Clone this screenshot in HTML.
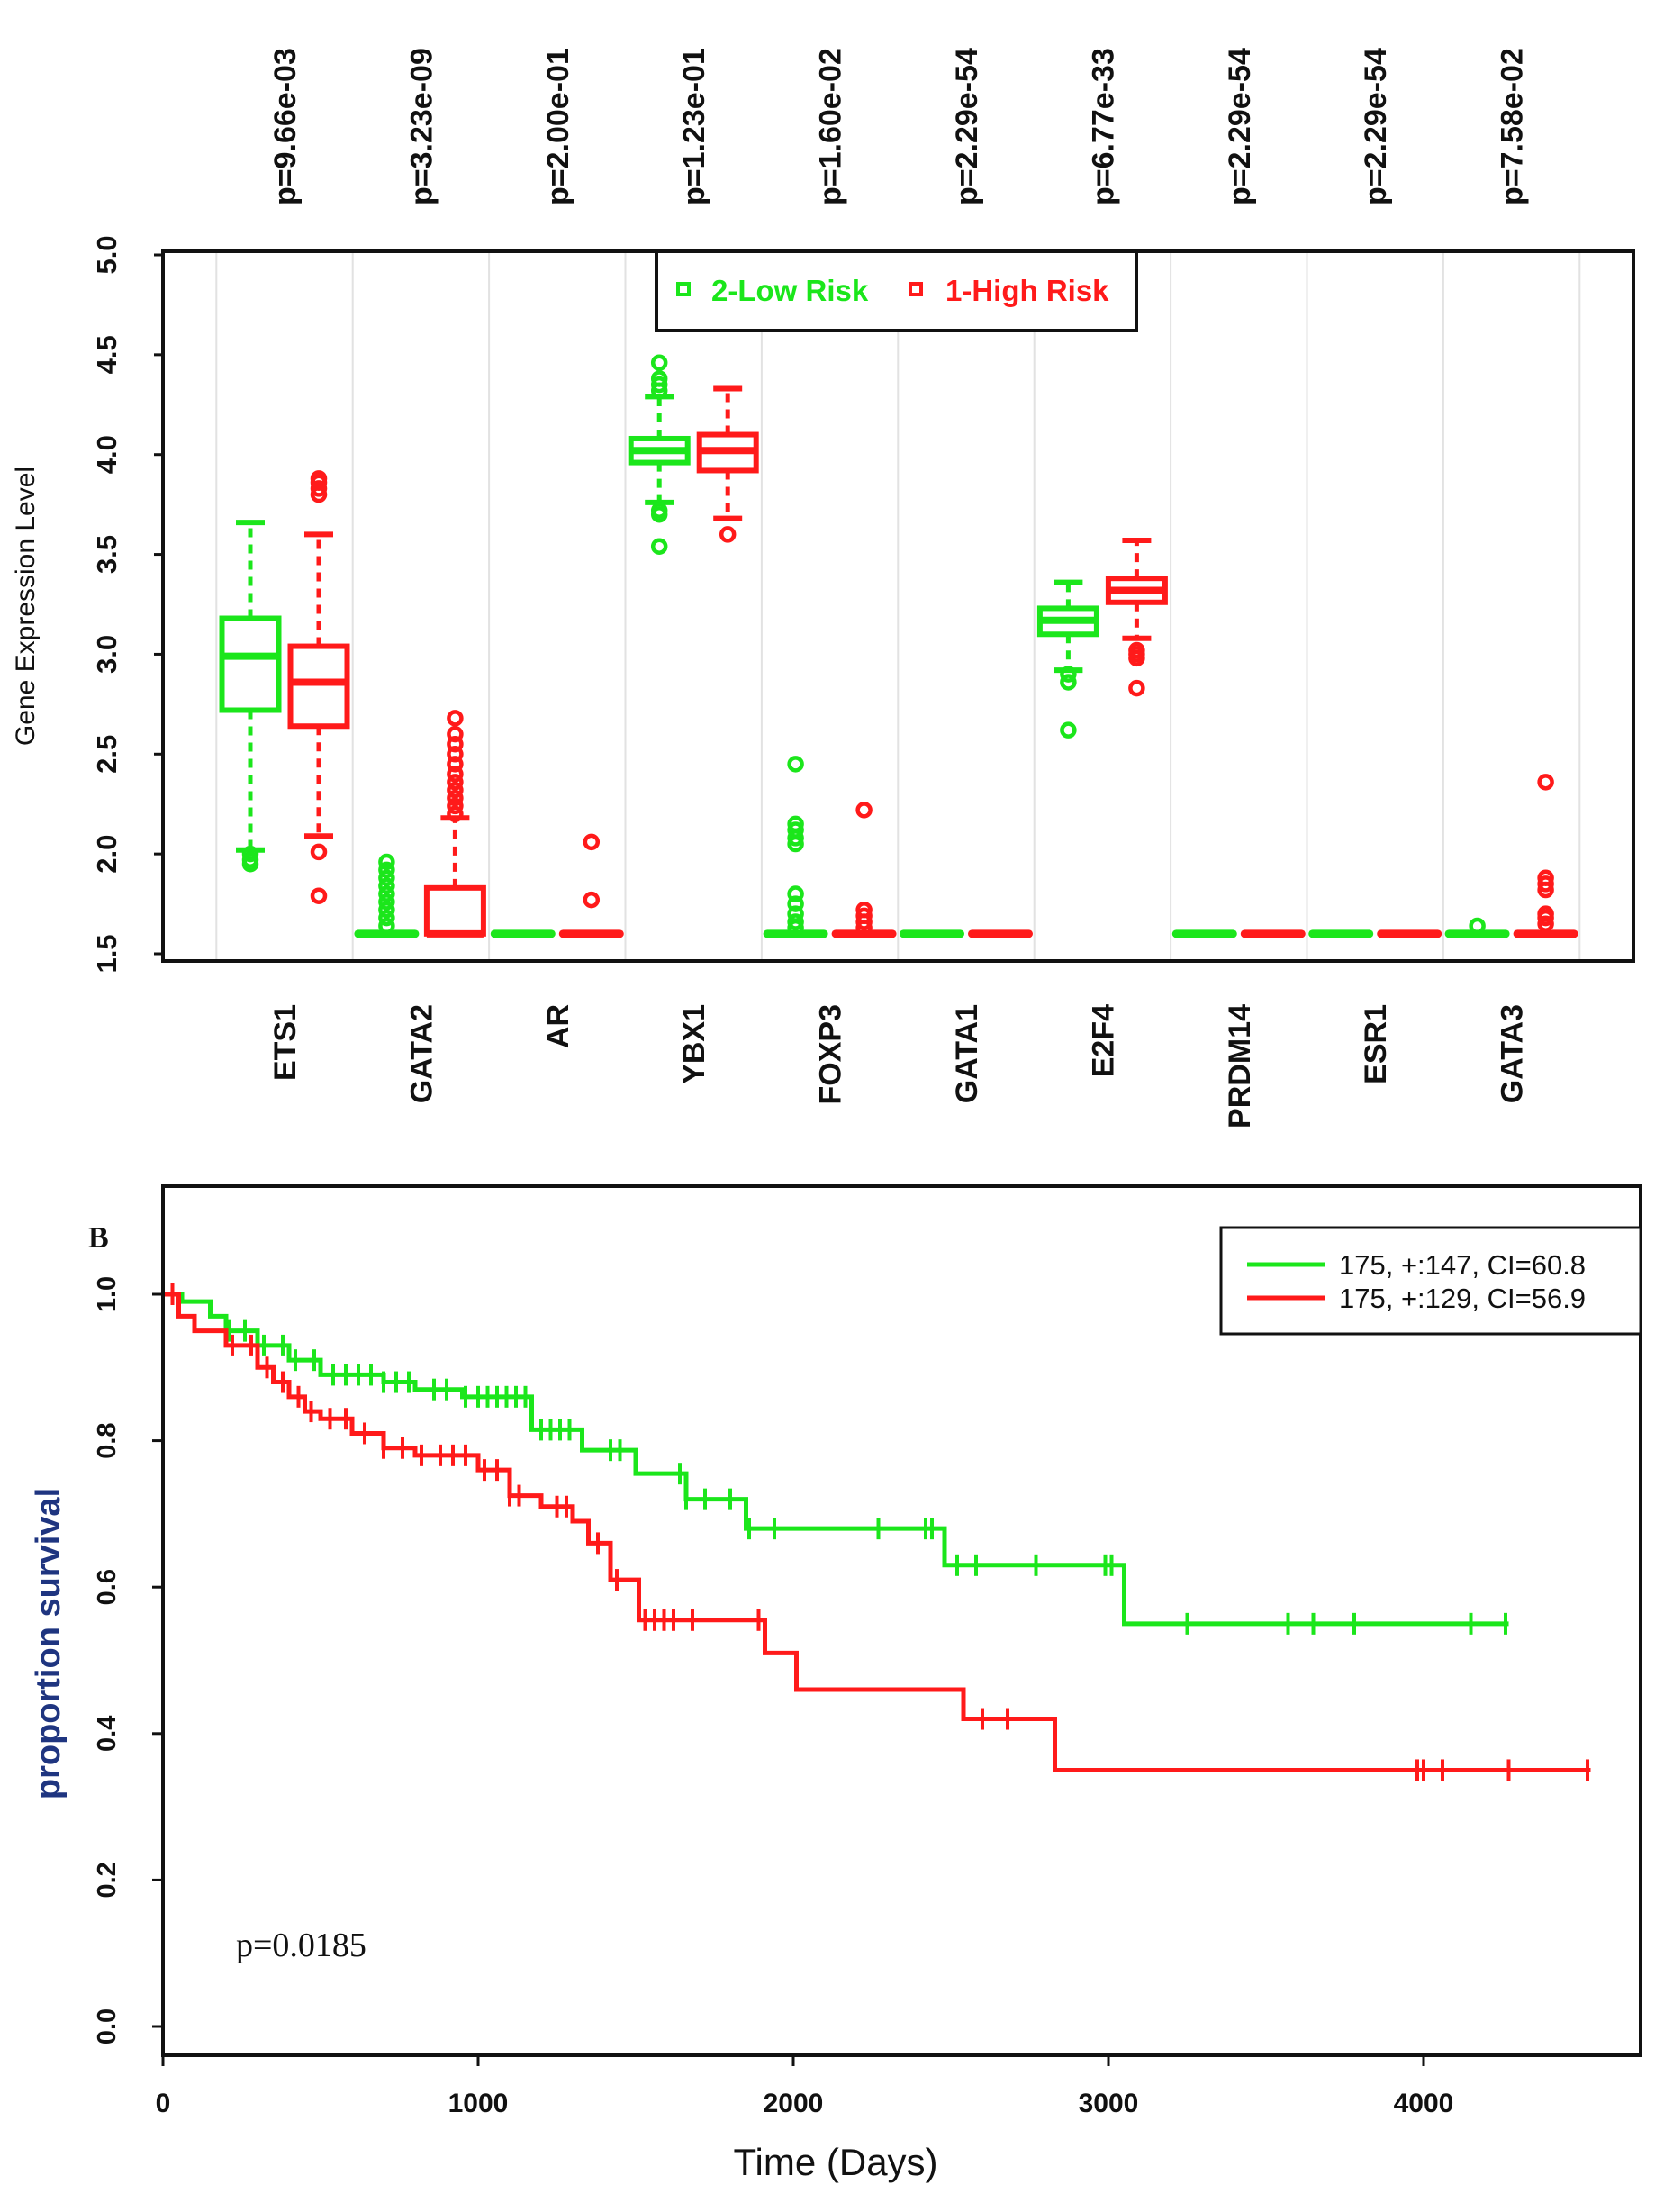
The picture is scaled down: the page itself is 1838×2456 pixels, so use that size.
<!DOCTYPE html>
<html><head><meta charset="utf-8">
<style>
html,body{margin:0;padding:0;background:#fff;}
svg{display:block;font-family:"Liberation Sans",sans-serif;}
</style></head>
<body>
<svg id="fig" width="1838" height="2456" viewBox="0 0 1838 2456" xmlns="http://www.w3.org/2000/svg">
<g id="topPanel"></g>
<g id="botPanel"></g>
</svg>
<script>
// ---------- Boxplot data ----------
const genes = ["ETS1","GATA2","AR","YBX1","FOXP3","GATA1","E2F4","PRDM14","ESR1","GATA3"];
const pvals = ["p=9.66e-03","p=3.23e-09","p=2.00e-01","p=1.23e-01","p=1.60e-02","p=2.29e-54","p=6.77e-33","p=2.29e-54","p=2.29e-54","p=7.58e-02"];
// [lowWhisker, q1, median, q3, highWhisker]
const lowRiskStats = [[2.02,2.72,2.99,3.18,3.66],[1.6,1.6,1.6,1.6,1.6],[1.6,1.6,1.6,1.6,1.6],[3.76,3.96,4.02,4.08,4.29],[1.6,1.6,1.6,1.6,1.6],[1.6,1.6,1.6,1.6,1.6],[2.92,3.10,3.17,3.23,3.36],[1.6,1.6,1.6,1.6,1.6],[1.6,1.6,1.6,1.6,1.6],[1.6,1.6,1.6,1.6,1.6]];
const highRiskStats = [[2.09,2.64,2.86,3.04,3.60],[1.6,1.6,1.6,1.83,2.18],[1.6,1.6,1.6,1.6,1.6],[3.68,3.92,4.02,4.10,4.33],[1.6,1.6,1.6,1.6,1.6],[1.6,1.6,1.6,1.6,1.6],[3.08,3.26,3.32,3.38,3.57],[1.6,1.6,1.6,1.6,1.6],[1.6,1.6,1.6,1.6,1.6],[1.6,1.6,1.6,1.6,1.6]];
const lowRiskOutliers = [[1.95,1.97,2.0],[1.64,1.68,1.72,1.76,1.8,1.84,1.88,1.92,1.96],[],[3.54,3.70,3.72,4.32,4.35,4.38,4.46],[1.63,1.66,1.7,1.75,1.8,2.05,2.08,2.12,2.15,2.45],[],[2.62,2.86,2.9],[],[],[1.64]];
const highRiskOutliers = [[1.79,2.01,3.80,3.83,3.86,3.88],[2.20,2.24,2.28,2.32,2.36,2.4,2.45,2.5,2.55,2.6,2.68],[1.77,2.06],[3.60],[1.63,1.66,1.69,1.72,2.22],[],[2.83,2.98,3.0,3.02],[],[],[1.65,1.68,1.7,1.82,1.85,1.88,2.36]];
const yTicksTop = [1.5,2.0,2.5,3.0,3.5,4.0,4.5,5.0];

// ---------- Survival data ----------
const greenTimes = [0,60,150,200,300,400,500,700,800,950,1170,1330,1500,1660,1850,2480,3050,4270];
const greenSurv  = [1.0,0.99,0.97,0.95,0.93,0.91,0.89,0.88,0.87,0.86,0.815,0.787,0.755,0.72,0.68,0.63,0.55,0.55];
const greenCensor = [210,260,320,380,420,480,540,580,620,660,700,740,780,860,900,960,1000,1030,1060,1090,1120,1150,1200,1230,1260,1290,1420,1450,1640,1660,1720,1800,1860,1940,2270,2420,2440,2520,2580,2770,2990,3010,3250,3570,3650,3780,4150,4260];
const redTimes = [0,50,100,200,300,350,400,450,500,600,700,800,1000,1100,1200,1300,1350,1420,1510,1910,2010,2540,2830,4530];
const redSurv  = [1.0,0.97,0.95,0.93,0.90,0.88,0.86,0.84,0.83,0.81,0.79,0.78,0.76,0.725,0.71,0.69,0.66,0.61,0.555,0.51,0.46,0.42,0.35,0.35];
const redCensor = [30,220,280,330,380,430,470,530,580,640,700,760,820,880,920,960,1020,1060,1100,1130,1250,1280,1380,1440,1530,1560,1590,1620,1680,1890,2600,2680,3980,4000,4060,4270,4520];
const xTicksBot = [0,1000,2000,3000,4000];
const yTicksBot = [0.0,0.2,0.4,0.6,0.8,1.0];

const NS="http://www.w3.org/2000/svg";
const GREEN="#1be61b", RED="#ff1a1a";
function mk(parent,tag,attrs,text){const e=document.createElementNS(NS,tag);for(const k in attrs)e.setAttribute(k,attrs[k]);if(text!==undefined)e.textContent=text;parent.appendChild(e);return e;}

// ===== TOP PANEL =====
const topG=document.getElementById('topPanel');
const TL=181,TR=1814,TT=279,TB=1067;
const yTop=v=>1059-(v-1.5)*(1059-283)/3.5;
const gx=i=>316+i*151.4;
for(let i=0;i<=genes.length;i++){
  const x=gx(i)-75.7;
  if(x>TL&&x<TR){const l=mk(topG,'line',{x1:x,x2:x,y1:TT,y2:TB,stroke:'#e2e2e2','stroke-width':2});
  
  }
}
function drawBox(s,outs,cx,color,name){
  const g=mk(topG,'g',{});
  
  
  const w=63;
  const flat=(s[3]-s[1])<0.001;
  if(flat){
    mk(g,'line',{x1:cx-w/2,x2:cx+w/2,y1:yTop(s[2]),y2:yTop(s[2]),stroke:color,'stroke-width':9,'stroke-linecap':'round'});
  } else {
    mk(g,'line',{x1:cx,x2:cx,y1:yTop(s[3]),y2:yTop(s[4]),stroke:color,'stroke-width':5,'stroke-dasharray':'10,8'});
    mk(g,'line',{x1:cx,x2:cx,y1:yTop(s[1]),y2:yTop(s[0]),stroke:color,'stroke-width':5,'stroke-dasharray':'10,8'});
    if(s[4]>s[3])mk(g,'line',{x1:cx-16,x2:cx+16,y1:yTop(s[4]),y2:yTop(s[4]),stroke:color,'stroke-width':6});
    if(s[0]<s[1])mk(g,'line',{x1:cx-16,x2:cx+16,y1:yTop(s[0]),y2:yTop(s[0]),stroke:color,'stroke-width':6});
    mk(g,'rect',{x:cx-w/2,y:yTop(s[3]),width:w,height:yTop(s[1])-yTop(s[3]),fill:'none',stroke:color,'stroke-width':6});
    mk(g,'line',{x1:cx-w/2,x2:cx+w/2,y1:yTop(s[2]),y2:yTop(s[2]),stroke:color,'stroke-width':8});
  }
  outs.forEach(v=>mk(g,'circle',{cx:cx,cy:yTop(v),r:7,fill:'none',stroke:color,'stroke-width':4.5}));
}
genes.forEach((gname,i)=>{
  drawBox(lowRiskStats[i],lowRiskOutliers[i],gx(i)-38,GREEN,'box-low-'+gname.toLowerCase());
  drawBox(highRiskStats[i],highRiskOutliers[i],gx(i)+38,RED,'box-high-'+gname.toLowerCase());
  const p=mk(topG,'text',{transform:`translate(${gx(i)+12},228) rotate(-90)`,'font-size':34,'font-weight':'bold','text-anchor':'start',fill:'#111'},pvals[i]);
  
  
  const t=mk(topG,'text',{transform:`translate(${gx(i)+12},1115) rotate(-90)`,'font-size':34,'font-weight':'bold','text-anchor':'end',fill:'#111'},gname);
  
  
});
const fr=mk(topG,'rect',{x:TL,y:TT,width:TR-TL,height:TB-TT,fill:'none',stroke:'#111','stroke-width':4});


yTicksTop.forEach(v=>{
  const y=yTop(v);
  mk(topG,'line',{x1:TL-10,x2:TL,y1:y,y2:y,stroke:'#111','stroke-width':3});
  const t=mk(topG,'text',{transform:`translate(129,${y}) rotate(-90)`,'font-size':31,'font-weight':'bold','text-anchor':'middle',fill:'#111'},v.toFixed(1));
  
  
});
const yt=mk(topG,'text',{transform:'translate(38,673) rotate(-90)','font-size':30,'text-anchor':'middle',fill:'#111'},'Gene Expression Level');


const lg=mk(topG,'g',{});


mk(lg,'rect',{x:729,y:279,width:533,height:88,fill:'#fff',stroke:'#111','stroke-width':4});
mk(lg,'rect',{x:753,y:315,width:12,height:12,fill:'none',stroke:GREEN,'stroke-width':4});
mk(lg,'text',{x:790,y:334,'font-size':33,'font-weight':'bold',fill:GREEN},'2-Low Risk');
mk(lg,'rect',{x:1011,y:315,width:12,height:12,fill:'none',stroke:RED,'stroke-width':4});
mk(lg,'text',{x:1050,y:334,'font-size':33,'font-weight':'bold',fill:RED},'1-High Risk');

// ===== BOTTOM PANEL =====
const botG=document.getElementById('botPanel');
const BL=181,BR=1822,BT=1317,BB=2282;
const xB=t=>181+t*0.35;
const yB=v=>2250-v*(2250-1437);
function stepPath(times,surv){
  let d=`M${xB(times[0])},${yB(surv[0])}`;
  for(let i=1;i<times.length;i++){d+=` H${xB(times[i])} V${yB(surv[i])}`;}
  return d;
}
function survAt(times,surv,t){let s=surv[0];for(let i=0;i<times.length;i++){if(times[i]<=t)s=surv[i];}return s;}
function drawCurve(times,surv,cens,color,name){
  const g=mk(botG,'g',{});
  
  
  mk(g,'path',{d:stepPath(times,surv),fill:'none',stroke:color,'stroke-width':5});
  cens.forEach(t=>{const x=xB(t),y=yB(survAt(times,surv,t));
    mk(g,'line',{x1:x,x2:x,y1:y-12,y2:y+12,stroke:color,'stroke-width':4});});
}
drawCurve(greenTimes,greenSurv,greenCensor,GREEN,'curve-low-risk');
drawCurve(redTimes,redSurv,redCensor,RED,'curve-high-risk');
const bf=mk(botG,'rect',{x:BL,y:BT,width:BR-BL,height:BB-BT,fill:'none',stroke:'#111','stroke-width':4});


xTicksBot.forEach(v=>{
  const x=xB(v);
  mk(botG,'line',{x1:x,x2:x,y1:BB,y2:BB+12,stroke:'#111','stroke-width':3});
  const t=mk(botG,'text',{x:x,y:2345,'font-size':30,'font-weight':'bold','text-anchor':'middle',fill:'#111'},String(v));
  
  
});
yTicksBot.forEach(v=>{
  const y=yB(v);
  mk(botG,'line',{x1:BL-12,x2:BL,y1:y,y2:y,stroke:'#111','stroke-width':3});
  const t=mk(botG,'text',{transform:`translate(128,${y}) rotate(-90)`,'font-size':29,'font-weight':'bold','text-anchor':'middle',fill:'#111'},v.toFixed(1));
  
  
});
const xt=mk(botG,'text',{x:928,y:2415,'font-size':42,'text-anchor':'middle',fill:'#111'},'Time (Days)');


const yb=mk(botG,'text',{transform:'translate(66,1825) rotate(-90)','font-size':38,'font-weight':'bold','text-anchor':'middle',fill:'#1f3580'},'proportion survival');


const bl=mk(botG,'text',{x:98,y:1385,'font-size':34,'font-weight':'bold','font-family':'Liberation Serif, serif',fill:'#111'},'B');


const pv=mk(botG,'text',{x:262,y:2172,'font-size':38,'font-family':'Liberation Serif, serif',fill:'#111'},'p=0.0185');


const lg2=mk(botG,'g',{});


mk(lg2,'rect',{x:1356,y:1363,width:466,height:118,fill:'#fff',stroke:'#111','stroke-width':3});
mk(lg2,'line',{x1:1385,x2:1471,y1:1404,y2:1404,stroke:GREEN,'stroke-width':5});
mk(lg2,'text',{x:1487,y:1415,'font-size':31,fill:'#111'},'175, +:147, CI=60.8');
mk(lg2,'line',{x1:1385,x2:1471,y1:1441,y2:1441,stroke:RED,'stroke-width':5});
mk(lg2,'text',{x:1487,y:1452,'font-size':31,fill:'#111'},'175, +:129, CI=56.9');
</script>
</body></html>
